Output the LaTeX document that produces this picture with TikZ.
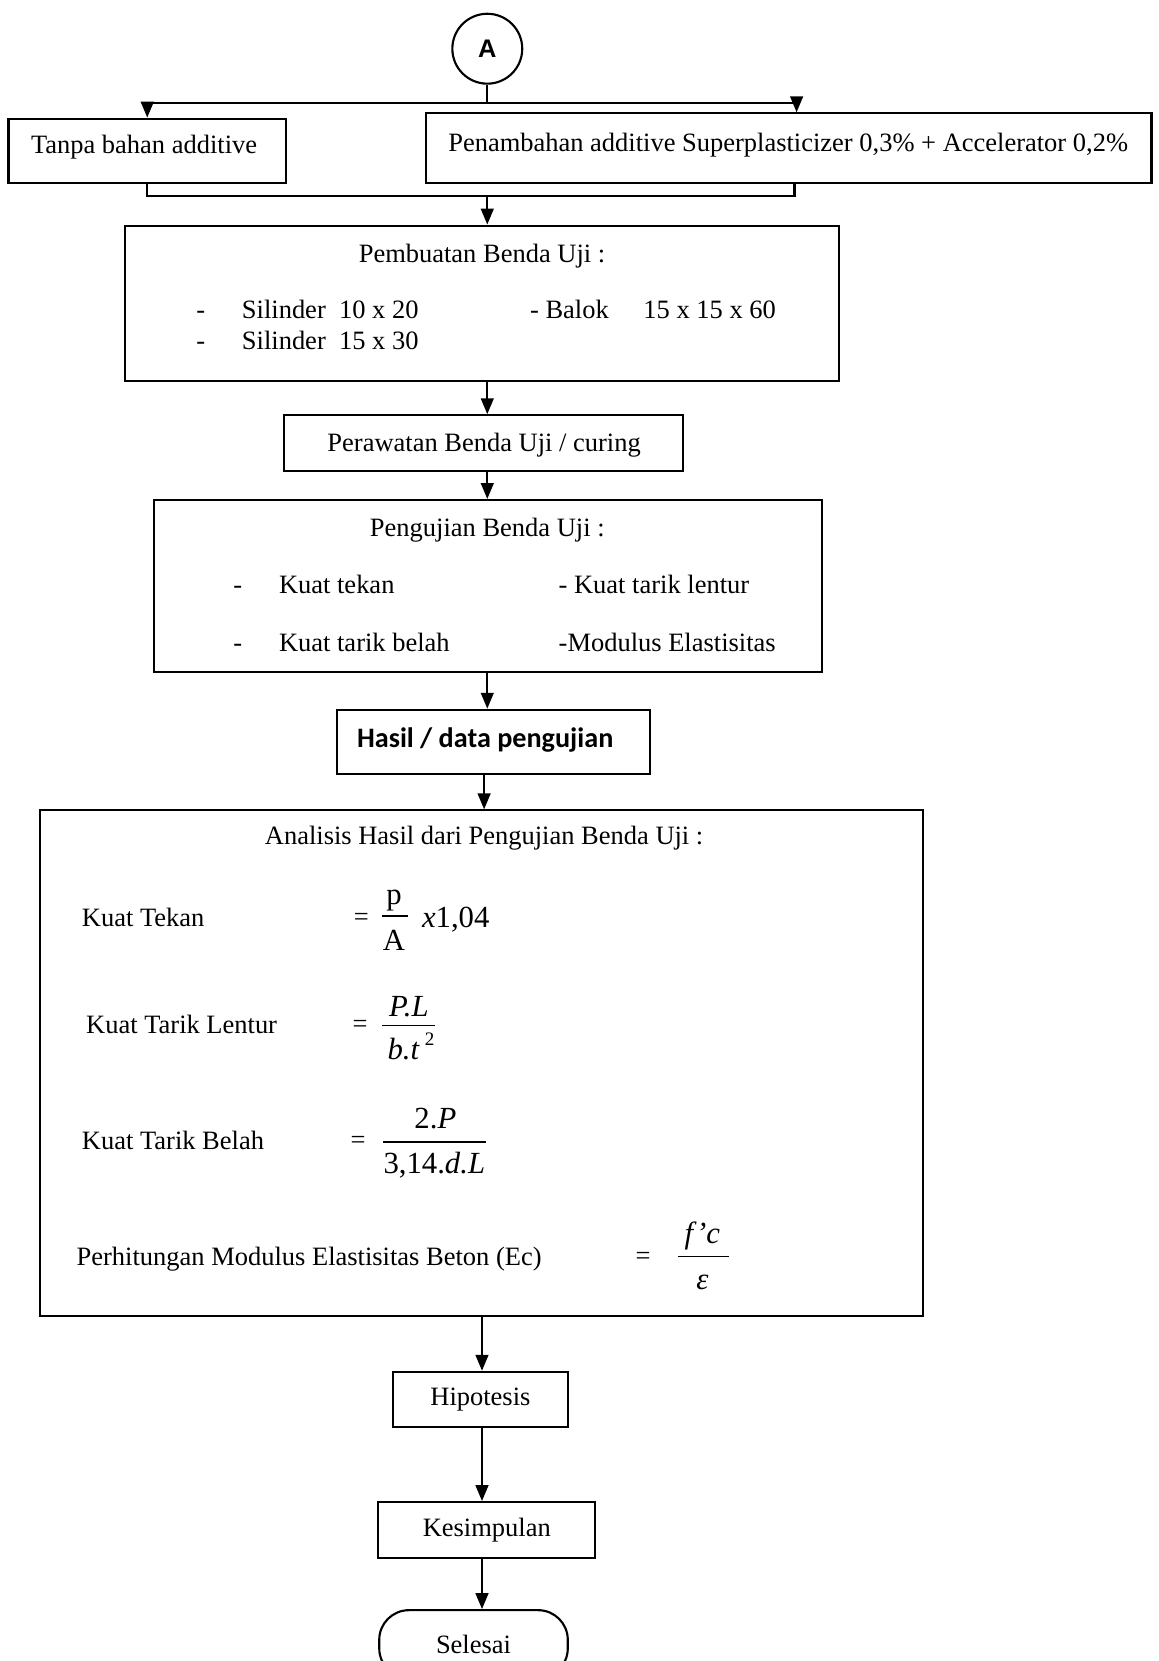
\documentclass[tikz,border=0pt]{standalone}
\usepackage{fontspec}
\setmainfont{Liberation Serif}
\newfontfamily\calfont{Carlito}
\newfontfamily\arialfont{Liberation Sans}
\usetikzlibrary{arrows.meta}
\begin{document}
\begin{tikzpicture}[x=0.5pt,y=-0.5pt,
  every node/.style={font=\fontsize{12.5}{15}\selectfont},
  box/.style={draw, line width=1pt, rectangle, inner sep=0pt},
  lbl/.style={inner sep=0pt, anchor=base west},
  ttl/.style={inner sep=0pt, anchor=base},
  fm/.style={inner sep=0pt, font=\fontsize{14.5}{17}\selectfont},
  eq/.style={inner sep=0pt, font=\fontsize{12.5}{15}\selectfont},
  bar/.style={line width=0.8pt},
  conn/.style={line width=1pt},
  arr/.style={line width=1pt, -{Triangle[length=7.5pt,width=6pt]}},
]
\useasboundingbox (0,0) rectangle (1094,1568);

% connector A
\node[draw, circle, line width=1pt, minimum size=33pt, inner sep=0pt,
      font=\arialfont\bfseries\fontsize{12}{14}\selectfont] (A) at (460,46) {A};

% top boxes
\node[box, minimum width=131pt, minimum height=30.5pt] (b1) at (139,142.5) {};
\node[ttl] (b1t) at (136,145) {Tanpa bahan additive};
\node[box, minimum width=342.5pt, minimum height=33pt] (b2) at (744.5,140) {};
\node[ttl] (b2t) at (744,143) {Penambahan additive Superplasticizer 0,3\% + Accelerator 0,2\%};

% box 3
\node[box, minimum width=337pt, minimum height=73.5pt] (b3) at (455,286.5) {};
\node[ttl] (b3t) at (455,248) {Pembuatan Benda Uji :};
\node[lbl] (b3d1) at (185,301) {-};
\node[lbl] (b3a) at (228,301) {Silinder~~10 x 20};
\node[lbl] (b3b) at (500,301) {- Balok};
\node[lbl] (b3c) at (607,301) {15 x 15 x 60};
\node[lbl] (b3d2) at (185,330) {-};
\node[lbl] (b3e) at (228,330) {Silinder~~15 x 30};

% box 4
\node[box, minimum width=188.5pt, minimum height=26.5pt] (b4) at (456.5,418.5) {};
\node[ttl] (b4t) at (457,426) {Perawatan Benda Uji / curing};

% box 5
\node[box, minimum width=315.5pt, minimum height=81pt] (b5) at (460.5,553) {};
\node[ttl] (b5t) at (460,506) {Pengujian Benda Uji :};
\node[lbl] (b5d1) at (220,560) {-};
\node[lbl] (b5a) at (263,560) {Kuat tekan};
\node[lbl] (b5b) at (527,560) {- Kuat tarik lentur};
\node[lbl] (b5d2) at (220,615) {-};
\node[lbl] (b5c) at (263,615) {Kuat tarik belah};
\node[lbl] (b5e) at (527,615) {-Modulus Elastisitas};

% box 6
\node[box, minimum width=148pt, minimum height=30.5pt] (b6) at (466,700.5) {};
\node[ttl, font=\calfont\bfseries\fontsize{13.3}{16}\selectfont] (b6t) at (458,706) {Hasil / data pengujian};

% box 7
\node[box, minimum width=416.5pt, minimum height=238.5pt] (b7) at (454.5,1003.5) {};
\node[ttl] (b7t) at (457,797) {Analisis Hasil dari Pengujian Benda Uji :};

\node[lbl] (k1) at (77,875) {Kuat Tekan};
\node[eq] (e1) at (341,868) {=};
\node[fm] (n1) at (372,850) {p};
\node[fm] (d1) at (372,888) {A};
\draw[bar] (361,865) -- (385,865);
\node[fm, anchor=base west] (x1) at (398,876) {\textit{x}1,04};

\node[lbl] (k2) at (81,976) {Kuat Tarik Lentur};
\node[eq] (e2) at (340,969) {=};
\node[fm] (n2) at (386,950) {\textit{P.L}};
\draw[bar] (361,968) -- (411,968);
\node[fm] (d2) at (388,988) {\textit{b.t}\,\raisebox{0.45em}{\fontsize{9}{9}\selectfont 2}};

\node[lbl] (k3) at (77,1085) {Kuat Tarik Belah};
\node[eq] (e3) at (338,1078) {=};
\node[fm] (n3) at (411,1056) {2.\textit{P}};
\draw[bar] (362,1078) -- (459,1078);
\node[fm] (d3) at (410,1100) {3,14.\textit{d.L}};

\node[lbl] (k4) at (72,1195) {Perhitungan Modulus Elastisitas Beton (Ec)};
\node[eq] (e4) at (607,1188) {=};
\node[fm] (n4) at (663,1167) {\textit{f'c}};
\draw[bar] (640,1186) -- (688,1186);
\node[fm] (d4) at (663,1211) {\textit{ε}};

% lower boxes
\node[box, minimum width=82.5pt, minimum height=26pt] (hip) at (453.5,1321) {Hipotesis};
\node[box, minimum width=102.5pt, minimum height=26.5pt] (kes) at (459.5,1444.5) {Kesimpulan};
\node[box, rounded corners=14pt, minimum width=89pt, minimum height=32pt] (sel) at (447,1552) {Selesai};

% connectors
\coordinate (jt) at (460,97);
\coordinate (b2in) at (752,97);
\draw[conn] (A.south) -- (jt);
\draw[arr] (jt) -| (b1.north);
\draw[arr] (jt) -- (b2in) -- (b2in |- b2.north);

\coordinate (jb) at (460,185);
\coordinate (b2out) at (750,185);
\draw[conn] (b1.south) |- (b2out) -- (b2out |- b2.south);
\draw[arr] (jb) -- (jb |- b3.north);

\draw[arr] (b3.south -| jb) -- (b4.north -| jb);
\draw[arr] (b4.south -| jb) -- (b5.north -| jb);
\draw[arr] (b5.south -| jb) -- (b6.north -| jb);

\coordinate (sx2) at (457,0);
\coordinate (sx) at (455,0);
\draw[arr] (b6.south -| sx2) -- (b7.north -| sx2);
\draw[arr] (b7.south -| sx) -- (hip.north -| sx);
\draw[arr] (hip.south -| sx) -- (kes.north -| sx);
\draw[arr] (kes.south -| sx) -- (sel.north -| sx);
\end{tikzpicture}
\end{document}
